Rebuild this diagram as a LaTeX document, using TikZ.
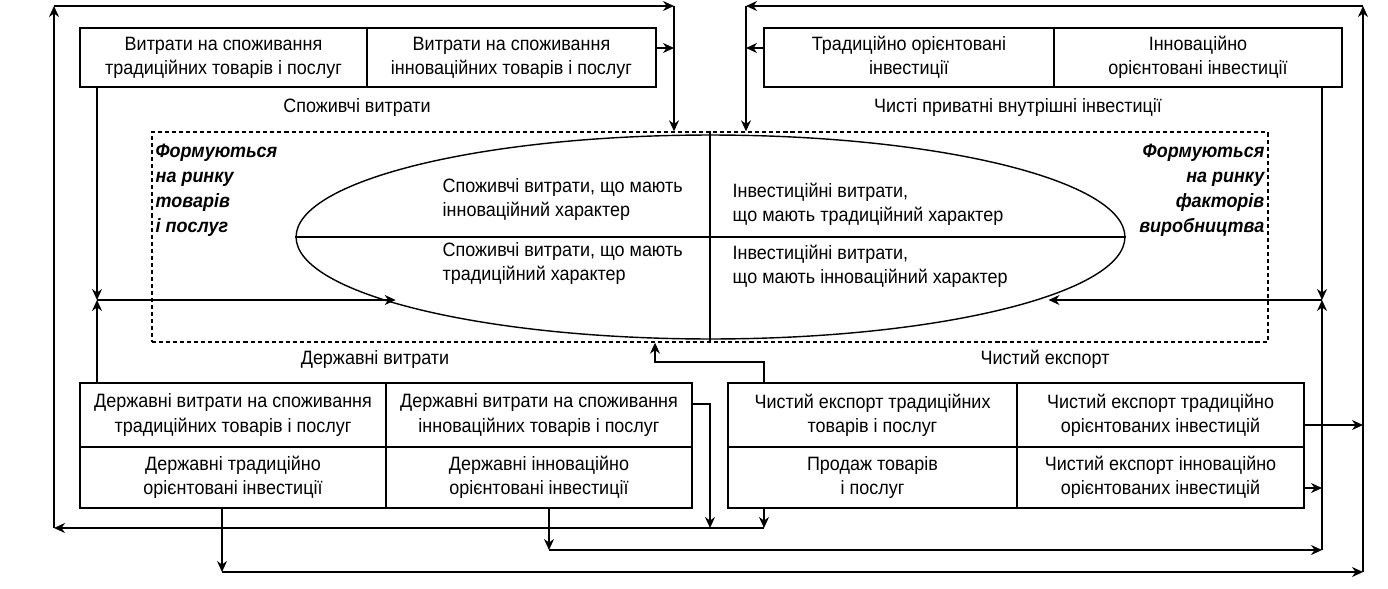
\documentclass[tikz,border=0pt]{standalone}
\usepackage{fontspec}
\setmainfont{Liberation Sans}[FakeStretch=0.93]
\usetikzlibrary{shapes.geometric,arrows.meta}

\begin{document}
\begin{tikzpicture}[x=0.02cm, y=-0.02cm, line width=0.8pt, >={Stealth[length=2.2mm,width=2mm]},
		every node/.style={font=\fontsize{11}{13.7}\selectfont},
		cell/.style={draw, align=center, inner sep=0pt},
		note/.style={align=left, inner sep=0pt, font=\fontsize{11}{14.4}\selectfont\bfseries\itshape}]
		\useasboundingbox (0,0) rectangle (1388,588);

		% споживчі витрати
		\node [cell, minimum width=5.74cm, minimum height=1.18cm] (tl1) at ( 223.5, 57.5 ) {Витрати на споживання\\традиційних товарів і послуг};
		\node [cell, minimum width=5.78cm, minimum height=1.18cm] (tl2) at ( 511.5, 57.5 ) {Витрати на споживання\\інноваційних товарів і послуг};
		\node (lsp) at ( 357, 108 ) {Споживчі витрати};

		% чисті приватні внутрішні інвестиції
		\node [cell, minimum width=5.80cm, minimum height=1.18cm] (tr1) at ( 909, 57.5 ) {Традиційно орієнтовані\\інвестиції};
		\node [cell, minimum width=5.76cm, minimum height=1.18cm] (tr2) at ( 1198, 57.5 ) {Інноваційно\\орієнтовані інвестиції};
		\node (linv) at ( 1018, 108 ) {Чисті приватні внутрішні інвестиції};

		% зона та еліпс
		\node [draw, dash pattern=on 2.3pt off 1.7pt, minimum width=22.32cm, minimum height=4.2cm] (zone) at ( 710, 237 ) {};
		\node [draw, ellipse, minimum width=16.58cm, minimum height=4.08cm] (ell) at ( 710.5, 237 ) {};
		\draw (ell.west) -- (ell.east);
		\draw (zone.north) -- (zone.south);
		\node [anchor=west, align=left, inner sep=0pt] (ct1) at ( 442, 199.5 ) {Споживчі витрати, що мають\\інноваційний характер};
		\node [anchor=west, align=left, inner sep=0pt] (ct2) at ( 442, 263.5 ) {Споживчі витрати, що мають\\традиційний характер};
		\node [anchor=west, align=left, inner sep=0pt] (it1) at ( 732, 204.5 ) {Інвестиційні витрати,\\що мають традиційний характер};
		\node [anchor=west, align=left, inner sep=0pt] (it2) at ( 732, 266.5 ) {Інвестиційні витрати,\\що мають інноваційний характер};
		\node [note, anchor=north west] (fl) at ( 155, 143 ) {Формуються\\на ринку\\товарів\\і послуг};
		\node [note, anchor=north east, align=right] (fr) at ( 1265, 143 ) {Формуються\\на ринку\\факторів\\виробництва};

		% державні витрати
		\node (lgov) at ( 375, 359 ) {Державні витрати};
		\node [cell, minimum width=6.12cm, minimum height=1.28cm] (bl1) at ( 233, 415 ) {Державні витрати на споживання\\традиційних товарів і послуг};
		\node [cell, minimum width=6.12cm, minimum height=1.28cm] (bl2) at ( 539, 415 ) {Державні витрати на споживання\\інноваційних товарів і послуг};
		\node [cell, minimum width=6.12cm, minimum height=1.22cm] (bl3) at ( 233, 477.5 ) {Державні традиційно\\орієнтовані інвестиції};
		\node [cell, minimum width=6.12cm, minimum height=1.22cm] (bl4) at ( 539, 477.5 ) {Державні інноваційно\\орієнтовані інвестиції};

		% чистий експорт
		\node (lexp) at ( 1045, 359 ) {Чистий експорт};
		\node [cell, minimum width=5.78cm, minimum height=1.28cm] (br1) at ( 872.5, 415 ) {Чистий експорт традиційних\\товарів і послуг};
		\node [cell, minimum width=5.74cm, minimum height=1.28cm] (br2) at ( 1160.5, 415 ) {Чистий експорт традиційно\\орієнтованих інвестицій};
		\node [cell, minimum width=5.78cm, minimum height=1.22cm] (br3) at ( 872.5, 477.5 ) {Продаж товарів\\і послуг};
		\node [cell, minimum width=5.74cm, minimum height=1.22cm] (br4) at ( 1160.5, 477.5 ) {Чистий експорт інноваційно\\орієнтованих інвестицій};

		% точки зламу
		\coordinate (ml) at ( 97, 300 );
		\coordinate (mr) at ( 1322, 300 );
		\coordinate (cL) at ( 54, 528 );
		\coordinate (cLT) at ( 54, 6 );
		\coordinate (cT1) at ( 674, 6 );
		\coordinate (aT1) at ( 674, 48 );
		\coordinate (cRB) at ( 1363, 572 );
		\coordinate (cRT) at ( 1363, 6 );
		\coordinate (cT2) at ( 746, 6 );
		\coordinate (aT2) at ( 746, 48 );
		\coordinate (b1) at ( 710, 528 );
		\coordinate (bm) at ( 764, 528 );
		\coordinate (b2) at ( 549, 550 );
		\coordinate (cMB) at ( 1322, 550 );
		\coordinate (b3) at ( 222, 572 );
		\coordinate (aR1) at ( 1363, 425 );
		\coordinate (aR2) at ( 1322, 488 );
		\coordinate (k1) at ( 710, 404 );
		\coordinate (k2) at ( 764, 362 );
		\coordinate (k3) at ( 655, 362 );

		% ліві зв'язки
		\draw [->] (tl1.south -| ml) -- (ml);
		\draw [->] (bl1.north -| ml) -- (ml);
		\draw [->] (ml) -- (ml -| ell.192);

		% праві зв'язки
		\draw [->] (tr2.south -| mr) -- (mr);
		\draw [->] (cMB) -- (mr);
		\draw [->] (mr) -- (mr -| ell.-10);

		% верхній контур ліворуч
		\draw [->] (bl2.east |- k1) -- (k1) -- (b1);
		\draw [->] (br3.south -| bm) -- (bm);
		\draw [->] (bm) -- (cL);
		\draw [->] (cL) -- (cLT);
		\draw [->] (cLT) -- (cT1);
		\draw [->] (cT1) -- (cT1 |- zone.north);
		\draw [->] (tl2.east |- aT1) -- (aT1);

		% верхній контур праворуч
		\draw [->] (bl3.south -| b3) -- (b3);
		\draw [->] (b3) -- (cRB);
		\draw [->] (cRB) -- (cRT);
		\draw [->] (cRT) -- (cT2);
		\draw [->] (cT2) -- (cT2 |- zone.north);
		\draw [->] (tr1.west |- aT2) -- (aT2);
		\draw [->] (br2.east |- aR1) -- (aR1);

		% нижні контури
		\draw [->] (bl4.south -| b2) -- (b2);
		\draw [->] (b2) -- (cMB);
		\draw [->] (br4.east |- aR2) -- (aR2);
		\draw [->] (br1.north -| k2) -- (k2) -- (k3) -- (k3 |- zone.south);
	\end{tikzpicture}
\end{document}
